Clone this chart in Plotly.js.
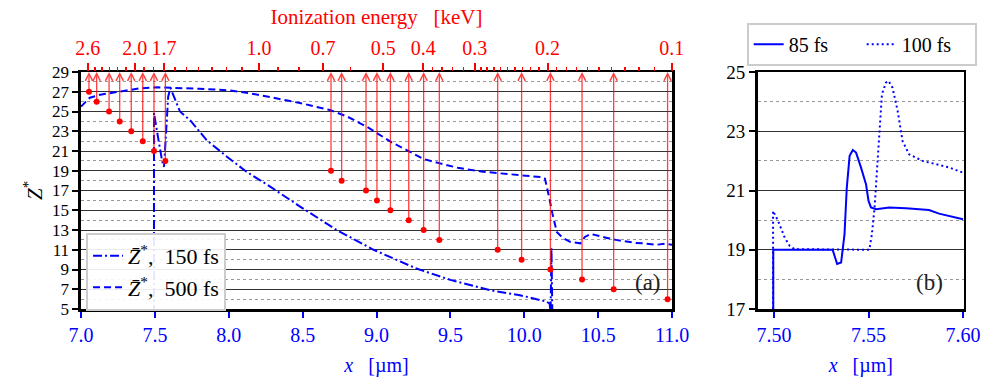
<!DOCTYPE html>
<html><head><meta charset="utf-8">
<script src="https://cdn.plot.ly/plotly-3.0.1.min.js"></script>
<style>html,body{margin:0;padding:0;background:#fff}</style>
</head><body><div id="chart" style="width:989px;height:378px"></div>
<script>
// ---- panel (a): mean charge, 500 fs ----
const x500 = [7.0, 7.03, 7.06, 7.13, 7.26, 7.4, 7.52, 7.65, 7.8, 8.0, 8.144, 8.3, 8.5, 8.685, 8.8, 8.934, 9.0, 9.1, 9.204, 9.316, 9.43, 9.55, 9.72, 9.9, 10.085, 10.12, 10.14, 10.153, 10.17, 10.19, 10.22, 10.26, 10.31, 10.38, 10.41, 10.45, 10.5, 10.56, 10.62, 10.69, 10.75, 10.8, 10.89, 10.95, 11.0];
const z500 = [25.5, 26.0, 26.4, 26.7, 27.0, 27.35, 27.45, 27.4, 27.3, 27.15, 26.84, 26.4, 25.8, 25.15, 24.5, 23.46, 22.85, 21.9, 21.1, 20.2, 19.75, 19.3, 18.9, 18.65, 18.4, 18.35, 18.2, 17.4, 16.2, 14.7, 12.8, 12.2, 11.8, 11.65, 12.3, 12.6, 12.4, 12.2, 12.0, 11.8, 11.7, 11.65, 11.5, 11.6, 11.5];
// ---- panel (a): mean charge, 150 fs ----
const x150 = [7.494, 7.494, 7.52, 7.55, 7.562, 7.575, 7.59, 7.605, 7.63, 7.67, 7.74, 7.85, 7.99, 8.12, 8.28, 8.48, 8.73, 8.98, 9.27, 9.5, 9.77, 9.97, 10.15, 10.172, 10.178, 10.184, 10.19];
const z150 = [4.5, 24.85, 22.5, 19.9, 19.4, 23.0, 26.5, 27.4, 26.5, 25.0, 24.1, 22.1, 20.4, 18.9, 17.4, 15.4, 13.0, 11.0, 9.1, 7.95, 6.9, 6.4, 5.75, 5.55, 4.5, 11.2, 4.5];
// ---- ionization thresholds (position, charge state) ----
const xIon = [7.054, 7.106, 7.19, 7.262, 7.34, 7.418, 7.494, 7.571, 8.692, 8.764, 8.929, 9.003, 9.094, 9.218, 9.319, 9.425, 9.82, 9.982, 10.177, 10.391, 10.605, 10.97];
const zIon = [27, 26, 25, 24, 23, 22, 21, 20, 19, 18, 17, 16, 15, 14, 13, 12, 11, 10, 9, 8, 7, 6];
// ---- top axis (ionization energy, keV) ----
const eMajor = [2.6, 2.0, 1.7, 1.0, 0.7, 0.5, 0.4, 0.3, 0.2, 0.1];
const eMajorText = ['2.6', '2.0', '1.7', '1.0', '0.7', '0.5', '0.4', '0.3', '0.2', '0.1'];
const eMinor = [2.5, 2.4, 2.3, 2.2, 2.1, 1.9, 1.8, 1.6, 1.5, 1.4, 1.3, 1.2, 1.1, 0.9, 0.8, 0.6, 0.38, 0.36, 0.34, 0.32, 0.29, 0.28, 0.27, 0.26, 0.25, 0.24, 0.23, 0.22, 0.21, 0.19, 0.18, 0.17, 0.16, 0.15, 0.14, 0.13, 0.12, 0.11];
// ---- panel (b) ----
const x85 = [7.4996, 7.4996, 7.531, 7.5334, 7.5355, 7.5373, 7.5385, 7.540, 7.5417, 7.5434, 7.546, 7.5487, 7.550, 7.5513, 7.554, 7.561, 7.5698, 7.5786, 7.582, 7.5873, 7.5926, 7.60];
const z85 = [16.5, 19.0, 19.0, 18.52, 18.57, 19.53, 21.1, 22.17, 22.37, 22.28, 21.78, 21.2, 20.65, 20.43, 20.37, 20.43, 20.4, 20.37, 20.34, 20.22, 20.15, 20.03];
const x100 = [7.4995, 7.4995, 7.5021, 7.5056, 7.5083, 7.5109, 7.5504, 7.5518, 7.5532, 7.5545, 7.5557, 7.5571, 7.5592, 7.5606, 7.5627, 7.5654, 7.568, 7.5715, 7.5786, 7.5856, 7.5926, 7.60];
const z100 = [16.5, 20.31, 19.98, 19.42, 19.13, 19.02, 19.0, 19.53, 20.43, 21.78, 23.12, 24.25, 24.64, 24.7, 24.47, 23.69, 22.67, 22.22, 22.0, 21.89, 21.78, 21.6];
const xTicksB = [7.50, 7.55, 7.60];

const FONT = 'Liberation Serif, DejaVu Serif, serif';
const BLUE = '#0000ff';
const RED = '#ff0000';
const zbar = 'Z\u0304';
const FS = 20;

const traces = [
  {x: x150, y: z150, xaxis: 'x', yaxis: 'y', mode: 'lines', name: '<i>' + zbar + '</i><sup>*</sup>,  150 fs',
   line: {color: BLUE, width: 2, dash: '9px,3px,2px,3px'}, legend: 'legend'},
  {x: x500, y: z500, xaxis: 'x', yaxis: 'y', mode: 'lines', name: '<i>' + zbar + '</i><sup>*</sup>,  500 fs',
   line: {color: BLUE, width: 2, dash: '7px,4px'}, legend: 'legend'},
  {x: xIon, y: zIon, xaxis: 'x', yaxis: 'y', mode: 'markers', showlegend: false,
   marker: {color: RED, size: 6}, hoverinfo: 'skip'},
  {x: eMajor, y: eMajor.map(() => null), xaxis: 'x2', yaxis: 'y', mode: 'markers', showlegend: false, hoverinfo: 'skip'},
  {x: x85, y: z85, xaxis: 'x3', yaxis: 'y3', mode: 'lines', name: '85 fs',
   line: {color: BLUE, width: 2}, legend: 'legend2'},
  {x: x100, y: z100, xaxis: 'x3', yaxis: 'y3', mode: 'lines', name: '100 fs',
   line: {color: BLUE, width: 2, dash: '2px,3px'}, legend: 'legend2'}
];

const annotations = xIon.map((xv, i) => ({
  xref: 'x', yref: 'y', x: xv, y: 29, axref: 'x', ayref: 'y', ax: xv, ay: zIon[i],
  text: '', showarrow: true, arrowhead: 5, arrowsize: 1.1, arrowwidth: 1.3,
  arrowcolor: 'rgba(255,0,0,0.75)', standoff: 0, startstandoff: 0
}));
annotations.push({xref: 'paper', yref: 'paper', x: 0.655, y: 0.215, text: '(a)', showarrow: false,
  font: {family: FONT, size: 23, color: '#222'}});
annotations.push({xref: 'paper', yref: 'paper', x: 0.9555, y: 0.215, text: '(b)', showarrow: false,
  font: {family: FONT, size: 23, color: '#222'}});

const yDom = [0.1825, 0.8095];
const layout = {
  width: 989, height: 378,
  margin: {l: 0, r: 0, t: 0, b: 0},
  paper_bgcolor: '#fff', plot_bgcolor: '#fff',
  font: {family: FONT, size: FS, color: '#000'},
  showlegend: true,
  xaxis: {domain: [0.0819, 0.6795], range: [7, 11], anchor: 'y', tick0: 7, dtick: 0.5, tickformat: '.1f',
    ticks: 'outside', ticklen: 6, tickwidth: 2, tickcolor: BLUE, tickfont: {color: BLUE, size: FS},
    showline: true, linewidth: 2.5, linecolor: '#000', mirror: true, showgrid: false, zeroline: false,
    automargin: false,
    title: {text: '<i>x</i>   [µm]', font: {color: BLUE, size: FS}, standoff: 14}},
  xaxis2: {overlaying: 'x', side: 'top', anchor: 'y', type: 'log', range: [0.4313, -1.0005],
    tickmode: 'array', tickvals: eMajor, ticktext: eMajorText,
    ticks: 'outside', ticklen: 8, tickwidth: 2, tickcolor: RED, tickfont: {color: RED, size: FS},
    minor: {tickmode: 'array', tickvals: eMinor, ticks: 'outside', ticklen: 4, tickwidth: 1.5, tickcolor: RED, showgrid: false},
    showline: false, showgrid: false, zeroline: false, automargin: false,
    title: {text: 'Ionization energy   [keV]', font: {color: RED, size: 21}, standoff: 6}},
  yaxis: {domain: yDom, range: [5, 29], anchor: 'x', tick0: 5, dtick: 2,
    ticks: 'outside', ticklen: 6, tickwidth: 2, tickcolor: '#000', tickfont: {size: 17},
    showgrid: true, gridcolor: '#333', gridwidth: 1,
    minor: {dtick: 1, tick0: 5, showgrid: true, gridcolor: '#999', griddash: 'dot', gridwidth: 1},
    showline: true, linewidth: 2.5, linecolor: '#000', mirror: true, zeroline: false, automargin: false,
    title: {text: '<i>Z</i><sup>*</sup>', font: {size: 21}, standoff: 4}},
  xaxis3: {domain: [0.766, 0.9747], range: [7.4913, 7.6005], anchor: 'y3', tickmode: 'array', tickvals: xTicksB,
    tickformat: '.2f', ticks: 'outside', ticklen: 6, tickwidth: 2, tickcolor: BLUE, tickfont: {color: BLUE, size: FS},
    showline: true, linewidth: 2.5, linecolor: '#000', mirror: true, showgrid: false, zeroline: false, automargin: false,
    title: {text: '<i>x</i>   [µm]', font: {color: BLUE, size: FS}, standoff: 14}},
  yaxis3: {domain: yDom, range: [17, 25], anchor: 'x3', tick0: 17, dtick: 2,
    ticks: 'outside', ticklen: 6, tickwidth: 2, tickcolor: '#000', tickfont: {size: 19},
    showgrid: true, gridcolor: '#333', gridwidth: 1,
    minor: {dtick: 1, tick0: 17, showgrid: true, gridcolor: '#999', griddash: 'dot', gridwidth: 1},
    showline: true, linewidth: 2.5, linecolor: '#000', mirror: true, zeroline: false, automargin: false},
  legend: {x: 0.087, y: 0.384, xanchor: 'left', yanchor: 'top', bgcolor: 'rgba(255,255,255,0.9)',
    bordercolor: '#ccc', borderwidth: 2, font: {size: 22}, tracegroupgap: 0},
  legend2: {x: 0.755, y: 0.94, xanchor: 'left', yanchor: 'top', orientation: 'h', bgcolor: 'rgba(255,255,255,0.9)',
    bordercolor: '#ccc', borderwidth: 2, font: {size: FS}, entrywidth: 68},
  annotations: annotations
};

Plotly.newPlot('chart', traces, layout, {staticPlot: true, displayModeBar: false});
</script></body></html>
